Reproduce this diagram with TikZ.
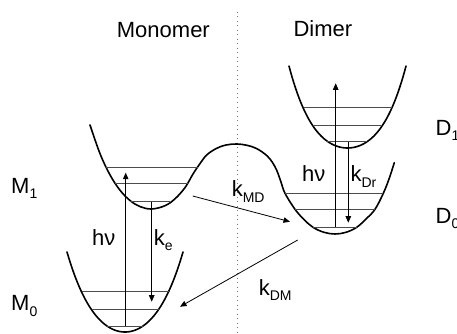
\documentclass[tikz,border=0pt]{standalone}
\usepackage{fontspec}
\setmainfont{Liberation Sans}
\usetikzlibrary{arrows.meta}
\newcommand\lowsub[1]{\raisebox{-5.5pt}{\fontsize{14}{14}\selectfont #1}}
\tikzset{
  well/.style={line width=1.6pt, line join=round, line cap=round},
  lvl/.style={black!70, line width=0.9pt},
  arr/.style={line width=0.8pt, -{Triangle[length=6.5pt,width=5.5pt]}},
  lab/.style={inner sep=0pt, anchor=base west, font=\fontsize{22}{26}\selectfont},
  divider/.style={black!55, line width=1pt, dash pattern=on 1pt off 3.5pt}
}
\begin{document}
\begin{tikzpicture}[x=1pt,y=-1pt]
\useasboundingbox (0,0) rectangle (457,334);
% divider
\coordinate (dtop) at (237,12);
\coordinate (dbot) at (237,334);
\draw[divider] (dtop) -- (dbot);
% titles
\node[lab] (mono) at (116.7,38) {Monomer};
\node[lab] (dimer) at (293.4,37) {Dimer};
% wells
\draw[well] plot[domain=-58:58, samples=80] ({125+\x}, {332 - 1.796*(\x/10)^2 - 0.0173*(\x/10)^4});
\draw[well] plot[domain=-58.5:58.5, samples=80] ({347.5+\x}, {148 - 1.55*(\x/10)^2 - 0.0247*(\x/10)^4});
\draw[well] plot[smooth, tension=0.6] coordinates {
 (90,125) (100,153.6) (110,174.9) (120,190.2) (130,200.5) (140,206.6) (151.5,209)
 (165,205.7) (175,198.8) (185,187.6) (193,174) (199,165) (206.7,155) (216.7,148.3)
 (226,145) (236.7,144) (247,145.3) (256.7,148.6) (266.7,155.5) (272.5,162.5) (277,171)
 (281,182) (285,193.3) (295,209.3) (304,219.5) (313,227.3) (324,232.3) (335,234)
 (346,232.3) (356.7,227.3) (366,219) (375,209.3) (383.3,193.3) (389,179) (394.3,162.7)};
% levels M1
\draw[lvl] (105,167.3) -- (198,167.3);
\draw[lvl] (115,183.3) -- (188,183.3);
\draw[lvl] (130,201.7) -- (170,201.7);
% levels M0
\draw[lvl] (82,291) -- (170,291);
\draw[lvl] (92,309) -- (159,309);
\draw[lvl] (107,326) -- (143,326);
% levels D1
\draw[lvl] (304,107.7) -- (392,107.7);
\draw[lvl] (313,125) -- (382,125);
\draw[lvl] (327,141.7) -- (367,141.7);
% levels D0
\draw[lvl] (285,193.3) -- (383,193.3);
\draw[lvl] (295,209.3) -- (375,209.3);
\draw[lvl] (313,227.3) -- (357,227.3);
% arrow end points
\coordinate (hva) at (125.7,326);
\coordinate (hvb) at (125.7,172.7);
\coordinate (kea) at (151.7,201.7);
\coordinate (keb) at (151.7,301.7);
\coordinate (hdA) at (335.7,227.3);
\coordinate (hdB) at (335.7,83.3);
\coordinate (kda) at (348.3,142);
\coordinate (kdb) at (348.3,222.7);
\coordinate (mda) at (192.7,196);
\coordinate (mdb) at (290,221.7);
\coordinate (dma) at (297.7,240);
\coordinate (dmb) at (180,306.7);
\draw[arr] (hva) -- (hvb);
\draw[arr] (kea) -- (keb);
\draw[arr] (hdA) -- (hdB);
\draw[arr] (kda) -- (kdb);
\draw[arr] (mda) -- (mdb);
\draw[arr] (dma) -- (dmb);
% labels
\node[lab] (lM1) at (11,193) {M\lowsub{1}};
\node[lab] (lM0) at (11,310.5) {M\lowsub{0}};
\node[lab] (lD1) at (435.5,135) {D\lowsub{1}};
\node[lab] (lD0) at (435.5,223.3) {D\lowsub{0}};
\node[lab] (hv1) at (92,245) {hν};
\node[lab] (ke) at (153.6,245) {k\lowsub{e}};
\node[lab] (kmd) at (231.6,196.7) {k\lowsub{MD}};
\node[lab] (kdm) at (258.6,295) {k\lowsub{DM}};
\node[lab] (hv2) at (302,181.7) {hν};
\node[lab] (kdr) at (350.3,181.7) {k\lowsub{Dr}};
\end{tikzpicture}
\end{document}
